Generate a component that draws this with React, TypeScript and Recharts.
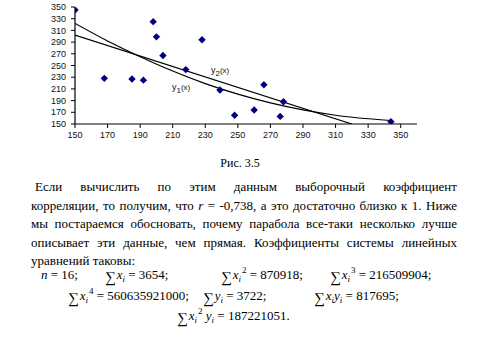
import { ComposedChart, Line, Scatter, XAxis, YAxis } from 'recharts';

// observed points (x, y)
const pointX = [150, 168, 185, 192, 198, 200, 204, 218, 228, 239, 248, 260, 266, 276, 278, 344];
const pointY = [345, 228, 227, 225, 325, 299, 267, 243, 294, 208, 165, 174, 217, 163, 188, 154];

// straight trend line, drawn until it meets the x axis
const lineX = [150, 320];
const lineY = [302, 150];

// parabola trend
const curveX = [150, 170, 190, 210, 230, 250, 270, 290, 310, 330, 344];
const curveY = [322, 292, 265, 240.5, 219, 201, 186, 174, 165, 159, 156];

const xTicks = [150, 170, 190, 210, 230, 250, 270, 290, 310, 330, 350];
const yTicks = [150, 170, 190, 210, 230, 250, 270, 290, 310, 330, 350];

const points = pointX.map((x, i) => ({ x, y: pointY[i] }));
const lineData = lineX.map((x, i) => ({ x, y: lineY[i] }));
const curveData = curveX.map((x, i) => ({ x, y: curveY[i] }));

const serif = '"Liberation Serif", "Times New Roman", serif';
const sans = '"Liberation Sans", Arial, sans-serif';
const tickStyle = { fontSize: 9, fill: '#111', fontFamily: sans };

function Diamond(props: any) {
    const { cx, cy } = props;
    if (cx == null || cy == null) return null;
    const r = 3.7;
    return (
        <polygon
            points={`${cx},${cy - r} ${cx + r},${cy} ${cx},${cy + r} ${cx - r},${cy}`}
            fill="#00007f"
        />
    );
}

function CurveLabel({ left, top, idx }: { left: number; top: number; idx: string }) {
    return (
        <span
            style={{
                position: 'absolute',
                left,
                top,
                fontFamily: sans,
                fontSize: 9,
                lineHeight: '10px',
                color: '#111',
                whiteSpace: 'nowrap',
            }}
        >
            y
            <span style={{ fontSize: 8, position: 'relative', top: 2.5 }}>{idx}</span>
            <span style={{ fontSize: 8 }}>(x)</span>
        </span>
    );
}

const Sum = () => (
    <span style={{ fontSize: 15, lineHeight: 0, position: 'relative', top: 2.5, marginRight: 1 }}>∑</span>
);
const Sub = ({ c }: { c: string }) => (
    <span style={{ fontSize: 9, lineHeight: 0, position: 'relative', top: 3, fontStyle: 'italic' }}>{c}</span>
);
const Sup = ({ c }: { c: string }) => (
    <span style={{ fontSize: 9, lineHeight: 0, position: 'relative', top: -6, marginLeft: 1 }}>{c}</span>
);
const I = ({ c }: { c: string }) => <span style={{ fontStyle: 'italic' }}>{c}</span>;

// one formula term; top is chosen so that the baseline sits where the reference has it
function Term({ left, base, children }: { left: number; base: number; children: React.ReactNode }) {
    return (
        <div
            style={{
                position: 'absolute',
                left,
                top: base - 10,
                fontFamily: serif,
                fontSize: 13,
                lineHeight: '11px',
                whiteSpace: 'nowrap',
                color: '#000',
            }}
        >
            {children}
        </div>
    );
}

const bodyLine = (base: number): React.CSSProperties => ({
    position: 'absolute',
    left: 31,
    top: base - 12.4,
    width: 426,
    fontFamily: serif,
    fontSize: 13,
    lineHeight: '16px',
    color: '#000',
    textAlign: 'justify',
    textAlignLast: 'justify',
    whiteSpace: 'nowrap',
});

export default function App() {
    return (
        <div
            style={{
                position: 'absolute',
                left: 0,
                top: 0,
                width: 496,
                height: 352,
                background: '#fff',
                overflow: 'hidden',
            }}
        >
            <div style={{ position: 'absolute', left: 0, top: 0 }}>
                <ComposedChart
                    width={430}
                    height={146}
                    margin={{ top: 7, right: 13, bottom: 0, left: 0 }}
                >
                    <XAxis
                        type="number"
                        dataKey="x"
                        domain={[150, 360]}
                        ticks={xTicks}
                        interval={0}
                        allowDataOverflow
                        height={22}
                        tick={tickStyle}
                        tickSize={4}
                        tickMargin={4}
                        axisLine={{ stroke: '#000', strokeWidth: 1.2 }}
                        tickLine={{ stroke: '#000' }}
                    />
                    <YAxis
                        type="number"
                        dataKey="y"
                        domain={[150, 350]}
                        ticks={yTicks}
                        interval={0}
                        allowDataOverflow
                        width={75}
                        tick={tickStyle}
                        tickSize={4}
                        tickMargin={5}
                        axisLine={{ stroke: '#000', strokeWidth: 1.2 }}
                        tickLine={{ stroke: '#000' }}
                    />
                    <Line
                        data={lineData}
                        dataKey="y"
                        type="linear"
                        stroke="#000"
                        strokeWidth={1.2}
                        dot={false}
                        isAnimationActive={false}
                    />
                    <Line
                        data={curveData}
                        dataKey="y"
                        type="monotone"
                        stroke="#000"
                        strokeWidth={1.2}
                        dot={false}
                        isAnimationActive={false}
                    />
                    <Scatter data={points} dataKey="y" shape={Diamond} isAnimationActive={false} />
                </ComposedChart>
            </div>

            <CurveLabel left={211} top={65} idx="2" />
            <CurveLabel left={172} top={82} idx="1" />

            <div
                style={{
                    position: 'absolute',
                    left: 0,
                    width: 480,
                    top: 155.5,
                    textAlign: 'center',
                    fontFamily: serif,
                    fontSize: 12,
                    lineHeight: '14px',
                }}
            >
                Рис. 3.5
            </div>

            <div style={{ ...bodyLine(191.5), left: 35, width: 422 }}>
                Если вычислить по этим данным выборочный коэффициент
            </div>
            <div style={bodyLine(210)}>
                корреляции, то получим, что <I c="r" /> = -0,738, а это достаточно близко к 1. Ниже
            </div>
            <div style={bodyLine(228.5)}>
                мы постараемся обосновать, почему парабола все-таки несколько лучше
            </div>
            <div style={bodyLine(247)}>
                описывает эти данные, чем прямая. Коэффициенты системы линейных
            </div>
            <div style={{ ...bodyLine(265), textAlign: 'left', textAlignLast: 'left' }}>
                уравнений таковы:
            </div>

            <Term left={41} base={279}>
                <I c="n" /> = 16;
            </Term>
            <Term left={105} base={279}>
                <Sum />
                <I c="x" />
                <Sub c="i" /> = 3654;
            </Term>
            <Term left={221} base={279}>
                <Sum />
                <I c="x" />
                <Sub c="i" />
                <Sup c="2" /> = 870918;
            </Term>
            <Term left={330} base={279}>
                <Sum />
                <I c="x" />
                <Sub c="i" />
                <Sup c="3" /> = 216509904;
            </Term>

            <Term left={68} base={300}>
                <Sum />
                <I c="x" />
                <Sub c="i" />
                <Sup c="4" /> = 560635921000;
            </Term>
            <Term left={203} base={300}>
                <Sum />
                <I c="y" />
                <Sub c="i" /> = 3722;
            </Term>
            <Term left={314} base={300}>
                <Sum />
                <I c="x" />
                <Sub c="i" />
                <I c="y" />
                <Sub c="i" /> = 817695;
            </Term>

            <Term left={177} base={320}>
                <Sum />
                <I c="x" />
                <Sub c="i" />
                <Sup c="2" /> <I c="y" />
                <Sub c="i" /> = 187221051.
            </Term>
        </div>
    );
}
